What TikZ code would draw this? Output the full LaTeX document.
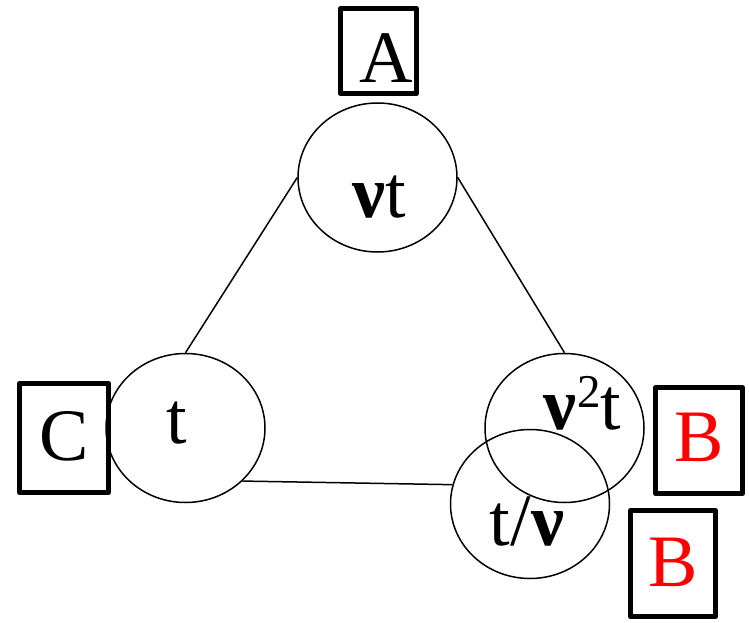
\documentclass[tikz,border=0pt]{standalone}
\usepackage{fontspec}
\setmainfont{Liberation Serif}
\usetikzlibrary{shapes.geometric}
\begin{document}
\begin{tikzpicture}[x=1pt,y=-1pt,
  bubble/.style={ellipse, draw, line width=1.5pt, minimum width=159pt, minimum height=149pt, inner sep=0pt},
  tag/.style={draw, line width=5pt, line join=round, inner sep=0pt, text depth=0pt,
    font=\fontsize{74}{80}\selectfont},
  word/.style={anchor=base, inner sep=0pt, font=\fontsize{74}{80}\selectfont},
  link/.style={line width=1.5pt}]
\useasboundingbox (0,0) rectangle (749,623);

% the four states
\node[bubble] (T)  at (377.5,177.5) {};
\node[bubble] (L)  at (185.5,428) {};
\node[bubble] (UR) at (564.5,428) {};
\node[bubble] (BR) at (530,504) {};

% their contents
\node[word] (Ttext)  at (379,217)   {\textbf{ν}t};
\node[word] (Ltext)  at (177,443)   {t};
\node[word] (URtext) at (582.5,429) {\textbf{ν}\raisebox{22pt}{\fontsize{47}{47}\selectfont 2}t};
\node[word] (BRtext) at (527,545)   {t/\textbf{ν}};

% framed labels
\node[tag, minimum width=76pt, minimum height=85pt, text height=64pt] (A) at (378.5,51) {\hspace*{15pt}A};
\node[tag, minimum width=89pt, minimum height=109pt, text height=44pt] (C) at (64,438) {C};
\node[tag, minimum width=87pt, minimum height=106pt, text height=41pt, text=red] (B1) at (699,440.5) {B};
\node[tag, minimum width=85pt, minimum height=106pt, text height=45pt, text=red] (B2) at (673,563.5) {B};

% connections
\draw[link] (T.west) -- (L.north);
\draw[link] (T.east) -- (UR.north);
\draw[link] (L.-43) -- (BR.166);
\end{tikzpicture}
\end{document}
